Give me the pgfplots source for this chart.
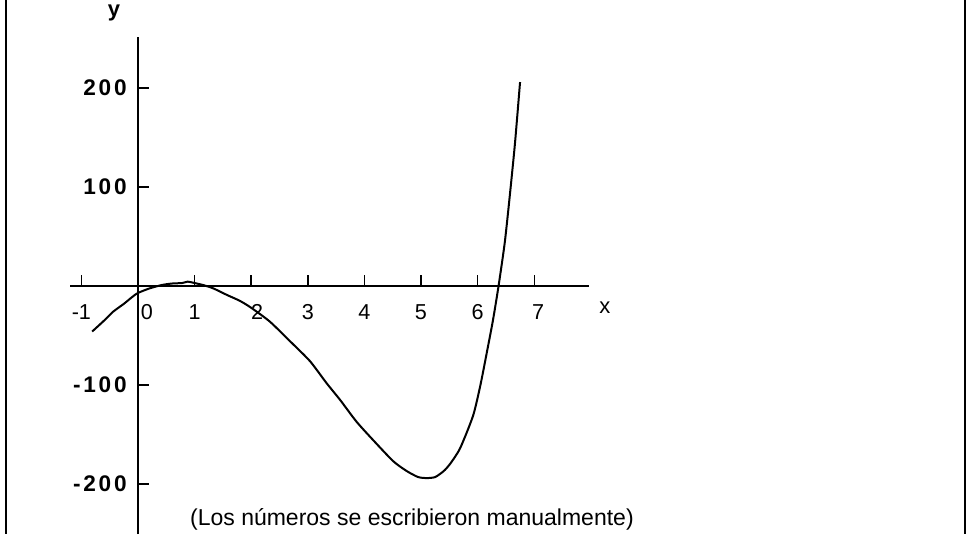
\documentclass[border=0pt]{standalone}
\usepackage{fontspec}
\setmainfont{Liberation Sans}
\newfontfamily\spacedfont[LetterSpace=12]{Liberation Sans}
\usepackage{pgfplots}
\pgfplotsset{compat=1.18}

% traced curve y(x)
\pgfplotstableread{
x      y
-0.81  -46
-0.60  -35
-0.44  -26
-0.25  -18
-0.10  -11
 0.00   -7
 0.20   -2.5
 0.42    1
 0.60    2.5
 0.78    3
 0.88    4.4
 1.00    3
 1.15    1
 1.33   -2.4
 1.57   -9
 1.80  -15
 2.00  -22
 2.33  -36
 2.69  -56
 3.04  -76
 3.33  -98
 3.57 -115
 3.86 -137
 4.16 -156
 4.51 -177
 4.75 -187
 4.95 -193
 5.10 -194
 5.25 -193
 5.40 -187
 5.51 -180
 5.69 -164
 5.92 -131
 6.05 -100
 6.16  -68
 6.27  -35
 6.37    0
 6.48   44
 6.57   92
 6.66  144
 6.75  206
}\curvedata

\begin{document}
\begin{tikzpicture}
\begin{axis}[
  x=28.3pt, y=0.495pt,
  xmin=-1.2, xmax=7.97,
  ymin=-250.5, ymax=251.5,
  axis lines=middle,
  axis line style={-, line width=1pt},
  clip=false,
  hide obscured x ticks=false,
  hide obscured y ticks=false,
  tick align=inside,
  major tick length=5.5pt,
  tick style={line width=0.7pt, black},
  xtick={-1,0,1,2,3,4,5,6,7},
  xticklabels={-1,\hspace{9pt}0,1,\hspace{6pt}2,3,4,5,6,\hspace{4pt}7},
  xticklabel style={anchor=center, inner sep=0pt, yshift=-13pt,
    font=\fontsize{10.8}{12}\selectfont},
  ytick={-200,-100,100,200},
  yticklabels={-200,-100,100,200},
  yticklabel style={anchor=east, inner sep=0pt, xshift=-5.5pt,
    font=\spacedfont\bfseries\fontsize{11.3}{13}\selectfont},
]
  \addplot[black, line width=1pt, smooth, tension=0.4] table {\curvedata};

  % page frame lines
  \draw[line width=1pt] (axis cs:-2.33,288.9) -- (axis cs:-2.33,-250.5);
  \draw[line width=1pt] (axis cs:14.61,288.9) -- (axis cs:14.61,-250.5);

  \node[font=\bfseries\fontsize{11}{12}\selectfont] at (axis cs:-0.424,276) {y};
  \node[font=\fontsize{11}{12}\selectfont] at (axis cs:8.25,-22.2) {x};
  \node[font=\fontsize{11.5}{14}\selectfont] at (axis cs:4.84,-235.4)
    {(Los números se escribieron manualmente)};

  \coordinate (bbA) at (axis cs:-2.438,288.9);
  \coordinate (bbB) at (axis cs:14.717,-250.5);
\end{axis}
\pgfresetboundingbox
\path[use as bounding box] (bbA) rectangle (bbB);
\end{tikzpicture}
\end{document}
